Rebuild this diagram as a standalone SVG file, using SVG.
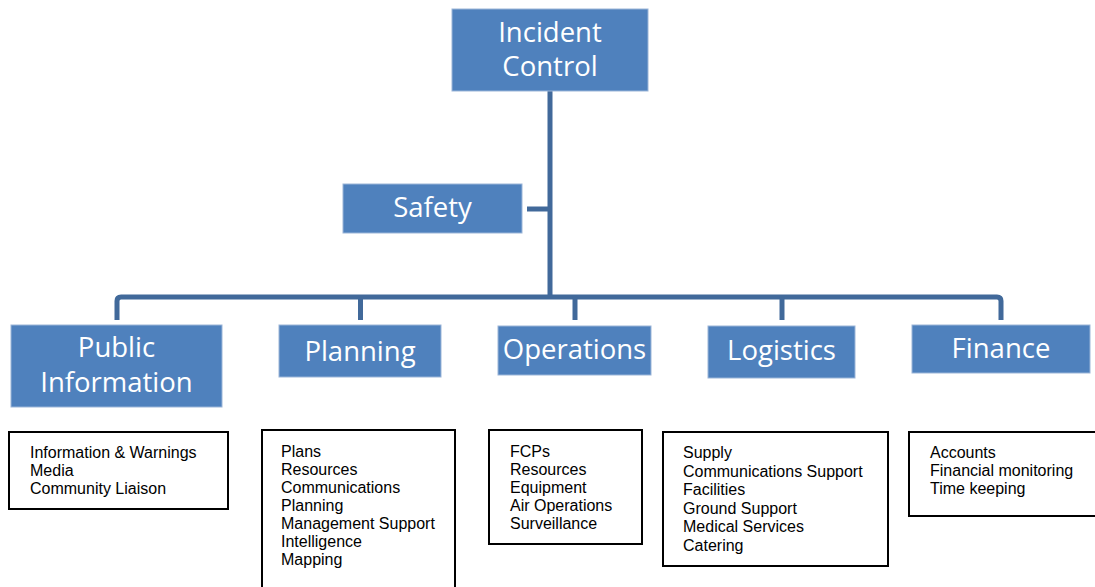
<svg xmlns="http://www.w3.org/2000/svg" width="1095" height="587" viewBox="0 0 1095 587">
  <style>
    .unit { fill: #4F81BD; stroke: #9BB5D8; stroke-width: 1; }
    .unit-label { font-family: "Open Sans", "Liberation Sans", sans-serif; font-size: 27.5px; fill: #FFFFFF; text-anchor: middle; }
    .duty { fill: #FFFFFF; stroke: #000000; stroke-width: 2; }
    .duty-text { font-family: "Liberation Sans", Arial, sans-serif; font-size: 16px; fill: #000000; }
    .link { fill: none; stroke: #41699A; stroke-width: 5; }
  </style>

  <!-- connectors -->
  <g id="connectors">
    <line class="link" x1="550" y1="91" x2="550" y2="297"/>
    <line class="link" x1="527" y1="209" x2="550" y2="209"/>
    <path class="link" d="M117,320 V301 Q117,297 121,297 H997 Q1001,297 1001,301 V320"/>
    <line class="link" x1="360.5" y1="297" x2="360.5" y2="320"/>
    <line class="link" x1="575" y1="297" x2="575" y2="320"/>
    <line class="link" x1="782" y1="297" x2="782" y2="320"/>
  </g>

  <!-- command units -->
  <g id="incident-control">
    <rect class="unit" x="452" y="9" width="196" height="82"/>
    <text class="unit-label" x="550" y="42">Incident</text>
    <text class="unit-label" x="550" y="76">Control</text>
  </g>

  <g id="safety">
    <rect class="unit" x="343" y="184" width="179" height="49"/>
    <text class="unit-label" x="432.5" y="217">Safety</text>
  </g>

  <g id="public-information">
    <rect class="unit" x="11" y="325" width="211" height="82"/>
    <text class="unit-label" x="116.5" y="357">Public</text>
    <text class="unit-label" x="116.5" y="392">Information</text>
  </g>

  <g id="planning">
    <rect class="unit" x="279" y="325" width="162" height="52"/>
    <text class="unit-label" x="360" y="361">Planning</text>
  </g>

  <g id="operations">
    <rect class="unit" x="498" y="326" width="153" height="49"/>
    <text class="unit-label" x="574.5" y="359">Operations</text>
  </g>

  <g id="logistics">
    <rect class="unit" x="708" y="326" width="147" height="52"/>
    <text class="unit-label" x="781.5" y="360">Logistics</text>
  </g>

  <g id="finance">
    <rect class="unit" x="912" y="325" width="178" height="48"/>
    <text class="unit-label" x="1001" y="358">Finance</text>
  </g>

  <!-- function lists -->
  <g id="public-information-duties">
    <rect class="duty" x="9" y="432" width="219" height="77"/>
    <text class="duty-text" x="30" y="458">Information &amp; Warnings</text>
    <text class="duty-text" x="30" y="476">Media</text>
    <text class="duty-text" x="30" y="494">Community Liaison</text>
  </g>

  <g id="planning-duties">
    <rect class="duty" x="262" y="430" width="193" height="170"/>
    <text class="duty-text" x="281" y="457">Plans</text>
    <text class="duty-text" x="281" y="475">Resources</text>
    <text class="duty-text" x="281" y="493">Communications</text>
    <text class="duty-text" x="281" y="511">Planning</text>
    <text class="duty-text" x="281" y="529">Management Support</text>
    <text class="duty-text" x="281" y="547">Intelligence</text>
    <text class="duty-text" x="281" y="565">Mapping</text>
  </g>

  <g id="operations-duties">
    <rect class="duty" x="489" y="430" width="153" height="114"/>
    <text class="duty-text" x="510" y="457">FCPs</text>
    <text class="duty-text" x="510" y="475">Resources</text>
    <text class="duty-text" x="510" y="493">Equipment</text>
    <text class="duty-text" x="510" y="511">Air Operations</text>
    <text class="duty-text" x="510" y="529">Surveillance</text>
  </g>

  <g id="logistics-duties">
    <rect class="duty" x="663" y="432" width="225" height="134"/>
    <text class="duty-text" x="683" y="458">Supply</text>
    <text class="duty-text" x="683" y="476.5">Communications Support</text>
    <text class="duty-text" x="683" y="495">Facilities</text>
    <text class="duty-text" x="683" y="513.5">Ground Support</text>
    <text class="duty-text" x="683" y="532">Medical Services</text>
    <text class="duty-text" x="683" y="550.5">Catering</text>
  </g>

  <g id="finance-duties">
    <rect class="duty" x="909" y="432" width="200" height="84"/>
    <text class="duty-text" x="930" y="458">Accounts</text>
    <text class="duty-text" x="930" y="476">Financial monitoring</text>
    <text class="duty-text" x="930" y="494">Time keeping</text>
  </g>
</svg>
